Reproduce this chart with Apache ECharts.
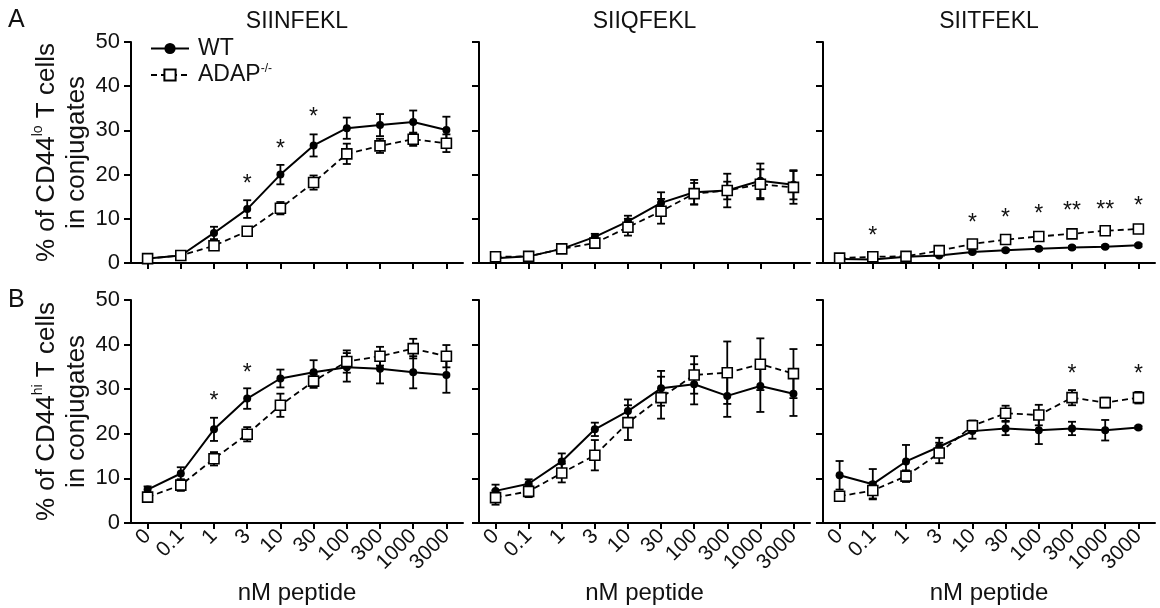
<!DOCTYPE html>
<html>
<head>
<meta charset="utf-8">
<script src="https://cdn.jsdelivr.net/npm/echarts@6/dist/echarts.min.js"></script>
<style>
  html, body { margin: 0; padding: 0; background: #fff; }
  #chart { width: 1160px; height: 608px; }
</style>
</head>
<body>
<div id="chart"></div>
<script>
const doses = ["0", "0.1", "1", "3", "10", "30", "100", "300", "1000", "3000"];
const peptides = ["SIINFEKL", "SIIQFEKL", "SIITFEKL"];

// CD44lo, SIINFEKL
const loN_wt = [1.0, 1.7, 6.8, 12.2, 20.0, 26.6, 30.5, 31.2, 31.9, 30.1];
const loN_wtErr = [0.3, 0.3, 1.4, 2.0, 2.2, 2.5, 2.4, 2.5, 2.6, 3.0];
const loN_ko = [1.0, 1.7, 3.9, 7.2, 12.4, 18.2, 24.7, 26.5, 28.0, 27.1];
const loN_koErr = [0.3, 0.3, 0.5, 0.5, 1.4, 1.6, 2.3, 1.6, 1.5, 2.0];
const loN_stars = [[3, 17.7, 1], [4, 25.6, 1], [5, 32.8, 1]];

// CD44lo, SIIQFEKL
const loQ_wt = [1.1, 1.5, 3.2, 5.9, 9.4, 13.6, 16.0, 16.4, 18.6, 17.7];
const loQ_wtErr = [0.3, 0.3, 0.4, 0.7, 1.3, 2.4, 2.8, 3.8, 3.9, 3.3];
const loQ_ko = [1.4, 1.5, 3.2, 4.5, 8.1, 11.7, 15.7, 16.4, 17.8, 17.1];
const loQ_koErr = [0.3, 0.3, 0.4, 0.8, 1.9, 2.8, 2.4, 2.0, 3.4, 3.7];
const loQ_stars = [];

// CD44lo, SIITFEKL
const loT_wt = [0.9, 0.8, 1.4, 1.7, 2.5, 2.9, 3.2, 3.5, 3.7, 4.0];
const loT_wtErr = [0.2, 0.2, 0.2, 0.2, 0.3, 0.3, 0.3, 0.3, 0.3, 0.3];
const loT_ko = [1.1, 1.4, 1.5, 2.8, 4.3, 5.3, 6.0, 6.6, 7.3, 7.7];
const loT_koErr = [0.3, 0.3, 0.3, 0.4, 0.5, 0.5, 0.5, 0.5, 0.5, 0.6];
const loT_stars = [[1, 6.0, 1], [4, 8.9, 1], [5, 10.0, 1], [6, 10.9, 1], [7, 11.7, 2], [8, 11.8, 2], [9, 12.7, 1]];

// CD44hi, SIINFEKL
const hiN_wt = [7.5, 11.1, 21.0, 27.9, 32.4, 33.8, 34.9, 34.6, 33.8, 33.2];
const hiN_wtErr = [0.7, 1.4, 2.6, 2.3, 2.0, 2.7, 3.2, 3.3, 3.6, 4.0];
const hiN_ko = [5.8, 8.5, 14.4, 19.9, 26.4, 31.8, 36.2, 37.4, 39.1, 37.4];
const hiN_koErr = [0.6, 1.3, 1.5, 1.6, 2.6, 1.5, 2.5, 2.1, 2.2, 2.5];
const hiN_stars = [[2, 27.2, 1], [3, 33.5, 1]];

// CD44hi, SIIQFEKL
const hiQ_wt = [7.2, 8.8, 13.8, 21.0, 25.1, 30.2, 31.1, 28.5, 30.7, 29.0];
const hiQ_wtErr = [1.4, 1.0, 1.8, 1.5, 2.6, 3.9, 4.5, 4.7, 5.8, 5.0];
const hiQ_ko = [5.7, 7.1, 11.2, 15.2, 22.5, 28.1, 33.2, 33.7, 35.6, 33.5];
const hiQ_koErr = [1.6, 1.3, 2.1, 3.4, 3.9, 4.7, 4.2, 7.0, 5.8, 5.5];
const hiQ_stars = [];

// CD44hi, SIITFEKL
const hiT_wt = [10.7, 8.7, 13.8, 17.1, 20.6, 21.2, 20.8, 21.2, 20.8, 21.4];
const hiT_wtErr = [3.2, 3.4, 3.7, 2.0, 1.7, 1.5, 3.1, 1.5, 2.3, 0.3];
const hiT_ko = [6.0, 7.3, 10.5, 15.7, 21.8, 24.6, 24.2, 28.1, 27.0, 28.1];
const hiT_koErr = [0.6, 1.8, 1.3, 2.3, 1.2, 1.7, 2.3, 1.7, 1.1, 1.3];
const hiT_stars = [[7, 33.2, 1], [9, 33.2, 1]];

const panels = [
  { wt: loN_wt, wtErr: loN_wtErr, ko: loN_ko, koErr: loN_koErr, stars: loN_stars },
  { wt: loQ_wt, wtErr: loQ_wtErr, ko: loQ_ko, koErr: loQ_koErr, stars: loQ_stars },
  { wt: loT_wt, wtErr: loT_wtErr, ko: loT_ko, koErr: loT_koErr, stars: loT_stars },
  { wt: hiN_wt, wtErr: hiN_wtErr, ko: hiN_ko, koErr: hiN_koErr, stars: hiN_stars },
  { wt: hiQ_wt, wtErr: hiQ_wtErr, ko: hiQ_ko, koErr: hiQ_koErr, stars: hiQ_stars },
  { wt: hiT_wt, wtErr: hiT_wtErr, ko: hiT_ko, koErr: hiT_koErr, stars: hiT_stars }
];

const FONT = "Liberation Sans, Arial, Helvetica, sans-serif";
const INK = "#111";
const gridLeft = [131, 479, 823];
const gridWidth = [332, 331, 332];
const gridTop = [42, 300];
const gridHeight = [221, 223];

function errorBar(params, api) {
  const x = api.value(0);
  const m = api.value(1);
  const e = api.value(2);
  const hi = api.coord([x, m + e]);
  const lo = api.coord([x, m - e]);
  const w = 4;
  const style = { stroke: "#000", lineWidth: 1.8, fill: null };
  return {
    type: "group",
    children: [
      { type: "line", shape: { x1: hi[0], y1: hi[1], x2: lo[0], y2: lo[1] }, style: style },
      { type: "line", shape: { x1: hi[0] - w, y1: hi[1], x2: hi[0] + w, y2: hi[1] }, style: style },
      { type: "line", shape: { x1: lo[0] - w, y1: lo[1], x2: lo[0] + w, y2: lo[1] }, style: style }
    ]
  };
}

function starMark(params, api) {
  const pt = api.coord([api.value(0), api.value(1)]);
  const n = api.value(2);
  return {
    type: "text",
    x: pt[0],
    y: pt[1],
    style: {
      text: n > 1 ? "**" : "*",
      fontSize: 23,
      fontFamily: FONT,
      fill: INK,
      align: "center",
      verticalAlign: "middle",
      textAlign: "center",
      textVerticalAlign: "middle"
    }
  };
}

const grid = [];
const xAxis = [];
const yAxis = [];
const series = [];

panels.forEach((p, i) => {
  const col = i % 3;
  const row = Math.floor(i / 3);
  grid.push({
    left: gridLeft[col],
    width: gridWidth[col],
    top: gridTop[row],
    height: gridHeight[row],
    outerBoundsMode: "none",
    containLabel: false
  });
  xAxis.push({
    gridIndex: i,
    type: "category",
    data: doses,
    boundaryGap: true,
    axisLine: { show: true, lineStyle: { color: "#000", width: 2 } },
    axisTick: { show: true, alignWithLabel: true, length: 6, lineStyle: { color: "#000", width: 2 } },
    axisLabel: {
      show: row === 1,
      interval: 0,
      rotate: 45,
      fontSize: 21,
      color: INK,
      fontFamily: FONT,
      margin: 10
    },
    splitLine: { show: false },
    name: row === 1 ? "nM peptide" : "",
    nameLocation: "middle",
    nameGap: 58,
    nameTextStyle: { fontSize: 24, color: INK, fontFamily: FONT }
  });
  const sup = row === 0 ? "lo" : "hi";
  yAxis.push({
    gridIndex: i,
    type: "value",
    min: 0,
    max: 50,
    interval: 10,
    axisLine: { show: true, lineStyle: { color: "#000", width: 2 } },
    axisTick: { show: true, length: 7, lineStyle: { color: "#000", width: 2 } },
    axisLabel: { show: col === 0, fontSize: 22, color: INK, fontFamily: FONT, margin: 11 },
    splitLine: { show: false },
    name: col === 0 ? "{t|% of CD44}{s|" + sup + "}{t| T cells}\n{t|in conjugates}" : "",
    nameLocation: "middle",
    nameRotate: 90,
    nameGap: 38,
    nameTextStyle: {
      fontSize: 26,
      color: INK,
      fontFamily: FONT,
      lineHeight: 30,
      rich: {
        t: { fontSize: 26, lineHeight: 30, color: INK, fontFamily: FONT },
        s: { fontSize: 14, lineHeight: 20, verticalAlign: "top", color: INK, fontFamily: FONT }
      }
    }
  });

  series.push({
    type: "custom",
    xAxisIndex: i,
    yAxisIndex: i,
    z: 1,
    renderItem: errorBar,
    encode: { x: 0, y: 1 },
    data: p.wt.map((v, k) => [k, v, p.wtErr[k]])
  });
  series.push({
    type: "custom",
    xAxisIndex: i,
    yAxisIndex: i,
    z: 1,
    renderItem: errorBar,
    encode: { x: 0, y: 1 },
    data: p.ko.map((v, k) => [k, v, p.koErr[k]])
  });
  series.push({
    name: "WT",
    type: "line",
    xAxisIndex: i,
    yAxisIndex: i,
    z: 3,
    data: p.wt,
    symbol: "circle",
    symbolSize: 8,
    showAllSymbol: true,
    itemStyle: { color: "#000" },
    lineStyle: { color: "#000", width: 2, type: "solid" }
  });
  series.push({
    name: "ADAP",
    type: "line",
    xAxisIndex: i,
    yAxisIndex: i,
    z: 4,
    data: p.ko,
    symbol: "rect",
    symbolSize: 10,
    showAllSymbol: true,
    itemStyle: { color: "#fff", borderColor: "#000", borderWidth: 1.6 },
    lineStyle: { color: "#000", width: 1.8, type: [6, 4] }
  });
  if (p.stars.length) {
    series.push({
      type: "custom",
      xAxisIndex: i,
      yAxisIndex: i,
      z: 5,
      renderItem: starMark,
      encode: { x: 0, y: 1 },
      data: p.stars
    });
  }
});

const titleTexts = peptides.map((t, c) => ({
  type: "text",
  x: gridLeft[c] + gridWidth[c] / 2,
  y: 22,
  style: {
    text: t,
    fontSize: 23,
    fontFamily: FONT,
    fill: INK,
    align: "center",
    verticalAlign: "middle",
    textAlign: "center",
    textVerticalAlign: "middle"
  }
}));

const chart = echarts.init(document.getElementById("chart"));
chart.setOption({
  animation: false,
  backgroundColor: "#fff",
  textStyle: { fontFamily: FONT },
  grid: grid,
  xAxis: xAxis,
  yAxis: yAxis,
  series: series,
  legend: {
    data: ["WT", "ADAP"],
    orient: "vertical",
    left: 145,
    top: 32,
    itemWidth: 38,
    itemHeight: 14,
    itemGap: 3,
    selectedMode: false,
    formatter: name => (name === "ADAP" ? "{t|ADAP}{s|-/-}" : "{t|WT}"),
    textStyle: {
      color: INK,
      fontSize: 23,
      fontFamily: FONT,
      padding: [0, 0, 0, 4],
      rich: {
        t: { fontSize: 23, lineHeight: 24, color: INK, fontFamily: FONT },
        s: { fontSize: 12, lineHeight: 16, verticalAlign: "top", color: INK, fontFamily: FONT }
      }
    }
  },
  graphic: [
    { type: "text", x: 8, y: 8, style: { text: "A", fontSize: 25, fontFamily: FONT, fill: INK } },
    { type: "text", x: 8, y: 288, style: { text: "B", fontSize: 25, fontFamily: FONT, fill: INK } }
  ].concat(titleTexts)
});
</script>
</body>
</html>
